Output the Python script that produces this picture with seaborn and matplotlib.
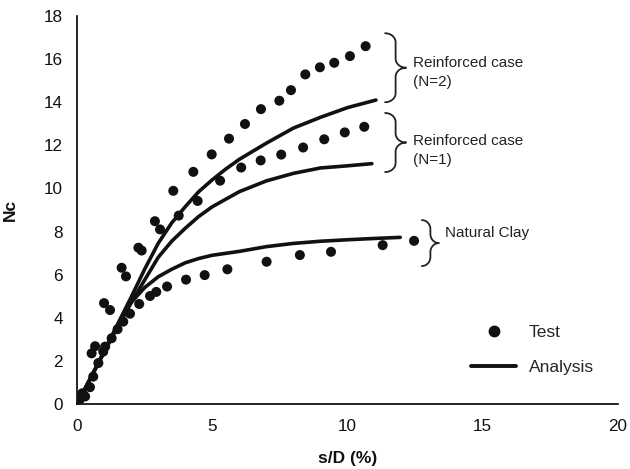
import numpy as np
import pandas as pd
import matplotlib
matplotlib.use("Agg")
import matplotlib.pyplot as plt
import seaborn as sns
from matplotlib.lines import Line2D

# ---------------- data ----------------
clay_test_x = [0.0, 0.3, 0.6, 0.97, 1.5, 1.96, 2.3, 2.7, 2.93, 3.33, 4.03, 4.72, 5.56, 7.01, 8.24, 9.39, 11.3, 12.46]
clay_test_y = [0.0, 0.35, 1.27, 2.43, 3.47, 4.19, 4.64, 5.01, 5.2, 5.45, 5.77, 5.98, 6.25, 6.6, 6.91, 7.06, 7.37, 7.57]

n1_test_x = [0.0, 0.2, 0.48, 0.79, 1.04, 1.28, 1.71, 1.81, 2.39, 3.07, 3.76, 4.46, 5.29, 6.07, 6.79, 7.55, 8.36, 9.14, 9.9, 10.62]
n1_test_y = [0.0, 0.5, 0.78, 1.9, 2.66, 3.05, 3.82, 5.92, 7.12, 8.1, 8.74, 9.42, 10.36, 10.97, 11.3, 11.57, 11.9, 12.28, 12.6, 12.86]

n2_test_x = [0.1, 0.54, 0.67, 1.0, 1.22, 1.65, 2.27, 2.88, 3.56, 4.3, 4.98, 5.62, 6.21, 6.8, 7.48, 7.91, 8.44, 8.98, 9.51, 10.09, 10.67]
n2_test_y = [0.2, 2.35, 2.68, 4.68, 4.36, 6.32, 7.25, 8.48, 9.89, 10.77, 11.58, 12.31, 12.99, 13.68, 14.07, 14.56, 15.29, 15.62, 15.83, 16.14, 16.6]

clay_fit_x = [0, 0.5, 1, 1.5, 2, 2.5, 3, 3.5, 4, 4.5, 5, 6, 7, 8, 9, 10, 11, 11.95]
clay_fit_y = [0, 1.2, 2.4, 3.6, 4.7, 5.4, 5.9, 6.25, 6.55, 6.75, 6.9, 7.08, 7.3, 7.45, 7.55, 7.62, 7.68, 7.73]

n1_fit_x = [0, 0.5, 1, 1.5, 2, 2.5, 3, 3.5, 4, 4.5, 5, 5.5, 6, 7, 8, 9, 10, 10.9]
n1_fit_y = [0, 1.2, 2.4, 3.6, 4.7, 5.75, 6.8, 7.55, 8.15, 8.7, 9.15, 9.5, 9.85, 10.35, 10.7, 10.95, 11.05, 11.15]

n2_fit_x = [0, 0.5, 1, 1.5, 2, 2.5, 3, 3.5, 4, 4.5, 5, 5.5, 6, 7, 8, 9, 10, 11.05]
n2_fit_y = [0, 1.2, 2.45, 3.7, 4.95, 6.25, 7.45, 8.4, 9.15, 9.85, 10.4, 10.9, 11.35, 12.1, 12.8, 13.3, 13.75, 14.1]

x_ticks = [0, 5, 10, 15, 20]
y_ticks = [0, 2, 4, 6, 8, 10, 12, 14, 16, 18]

annotations = [
    # (text, brace_x_left, brace_y_bottom, brace_y_top, text_x, text_y)
    ("Reinforced case\n(N=2)", 11.39, 14.0, 17.2, 12.42, 15.38),
    ("Reinforced case\n(N=1)", 11.39, 10.76, 13.5, 12.42, 11.74),
    ("Natural Clay", 12.75, 6.4, 8.53, 13.62, 7.93),
]

# ---------------- frames ----------------
test_df = pd.DataFrame({
    "x": clay_test_x + n1_test_x + n2_test_x,
    "y": clay_test_y + n1_test_y + n2_test_y,
    "case": ["clay"] * len(clay_test_x) + ["n1"] * len(n1_test_x) + ["n2"] * len(n2_test_x),
})
fit_df = pd.DataFrame({
    "x": clay_fit_x + n1_fit_x + n2_fit_x,
    "y": clay_fit_y + n1_fit_y + n2_fit_y,
    "case": ["clay"] * len(clay_fit_x) + ["n1"] * len(n1_fit_x) + ["n2"] * len(n2_fit_x),
})

sns.set_theme(style="white")
plt.rcParams["font.family"] = ["Liberation Sans", "DejaVu Sans"]

W, H, DPI = 630, 469, 100
fig = plt.figure(figsize=(W / DPI, H / DPI), dpi=DPI)
ax = fig.add_axes([77 / W, (H - 404) / H, 541 / W, 388 / H])

sns.lineplot(data=fit_df, x="x", y="y", units="case", estimator=None, sort=False,
             color="#111111", linewidth=2.6, ax=ax, legend=False, zorder=2)
sns.scatterplot(data=test_df, x="x", y="y", color="#111111", s=52, edgecolor="none",
                ax=ax, legend=False, zorder=3)

ax.set_xlim(0, 20)
ax.set_ylim(0, 18)
ax.set_xticks(x_ticks)
ax.set_yticks(y_ticks)
ax.set_xticklabels([str(t) for t in x_ticks])
ax.set_yticklabels([str(t) for t in y_ticks])
for s in ["top", "right"]:
    ax.spines[s].set_visible(False)
for s in ["left", "bottom"]:
    ax.spines[s].set_color("black")
    ax.spines[s].set_linewidth(1.2)
ax.tick_params(axis="both", direction="out", length=4, width=1.1, color="black",
               labelsize=12.3, labelcolor="#111111")
ax.tick_params(axis="y", pad=6)
ax.tick_params(axis="x", pad=7)

ax.set_xlabel("s/D (%)", fontsize=12.5, fontweight="bold", color="#111111")
ax.set_ylabel("Nc", fontsize=12.5, fontweight="bold", color="#111111")
ax.xaxis.set_label_coords(0.5, -0.122)
ax.yaxis.set_label_coords(-0.109, 0.5)

# legend
handles = [Line2D([], [], marker="o", linestyle="none", color="#111111", markersize=7.5),
           Line2D([], [], color="#111111", linewidth=2.8)]
ax.legend(handles, ["Test", "Analysis"], loc="center left", frameon=False,
          bbox_to_anchor=(0.70, 0.14), fontsize=12.5, handlelength=2.6,
          labelspacing=1.15, handletextpad=0.7)

# braces (annotation shapes) built in pixel space
fig.canvas.draw()
inv = ax.transData.inverted()


def brace(x_left, y_bot, y_top, w=21.0, r=9.0):
    x0, yb = ax.transData.transform((x_left, y_bot))
    _, yt = ax.transData.transform((x_left, y_top))
    ym = (yb + yt) / 2
    h = w / 2
    pts = []
    t = np.linspace(np.pi / 2, 0, 12)
    pts += list(zip(x0 + h * np.cos(t), (yt - r) + r * np.sin(t)))
    t = np.linspace(np.pi, 1.5 * np.pi, 12)
    pts += list(zip(x0 + w + h * np.cos(t), (ym + r) + r * np.sin(t)))
    t = np.linspace(np.pi / 2, np.pi, 12)
    pts += list(zip(x0 + w + h * np.cos(t), (ym - r) + r * np.sin(t)))
    t = np.linspace(0, -np.pi / 2, 12)
    pts += list(zip(x0 + h * np.cos(t), (yb + r) + r * np.sin(t)))
    d = inv.transform(np.array(pts))
    ax.plot(d[:, 0], d[:, 1], color="#222222", linewidth=1.3, clip_on=False,
            solid_capstyle="round")


for txt, bx, by0, by1, tx, ty in annotations:
    brace(bx, by0, by1, w=21.0 if "N=" in txt else 17.0)
    ax.text(tx, ty, txt, fontsize=11, color="#222222", ha="left", va="center",
            linespacing=1.45)

fig.savefig("out.png", dpi=DPI)
